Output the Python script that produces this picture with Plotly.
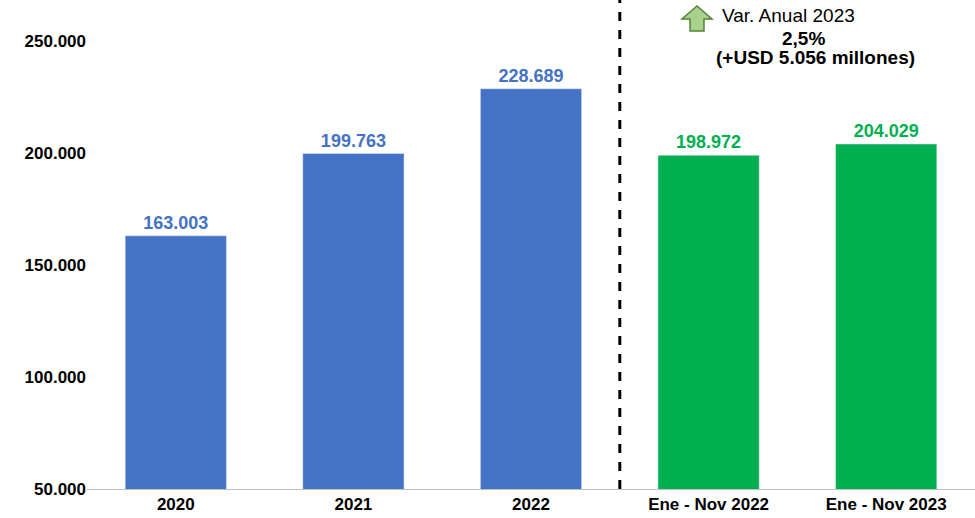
import plotly.graph_objects as go

categories = ["2020", "2021", "2022", "Ene - Nov 2022", "Ene - Nov 2023"]
values = [163003, 199763, 228689, 198972, 204029]
colors = ["#4472C4", "#4472C4", "#4472C4", "#00B050", "#00B050"]
labels = ["163.003", "199.763", "228.689", "198.972", "204.029"]

fig = go.Figure(go.Bar(
    x=categories, y=values, marker_color=colors, width=0.57,
    text=labels, textposition="outside", cliponaxis=False,
    textfont=dict(family="Liberation Sans, Arial", size=18, color=colors, weight="bold"),
))

def px(x): return (x - 87) / 888
def py(y): return (489 - y) / 489

pts = [(697, 6), (682, 19), (690, 19), (690, 31), (704, 31), (704, 19), (712, 19)]
path = "M " + " L ".join(f"{px(a):.4f},{py(b):.4f}" for a, b in pts) + " Z"

fig.update_layout(
    width=975, height=518, margin=dict(l=87, r=0, t=0, b=29),
    plot_bgcolor="white", paper_bgcolor="white", separators=",.",
    showlegend=False, bargap=0.43,
    font=dict(family="Liberation Sans, Arial", color="black"),
    xaxis=dict(showgrid=False, showline=True, linecolor="#bfbfbf", ticks="",
               tickfont=dict(size=17, family="Liberation Sans, Arial", weight="bold")),
    yaxis=dict(range=[50000, 268300], tickvals=[50000, 100000, 150000, 200000, 250000],
               tickformat=",.0f", showgrid=False, zeroline=False, ticks="",
               tickfont=dict(size=17, family="Liberation Sans, Arial", weight="bold")),
    shapes=[
        dict(type="line", xref="x", yref="paper", x0=2.5, x1=2.5, y0=0, y1=1,
             line=dict(color="black", width=3, dash="dash")),
        dict(type="path", xref="paper", yref="paper", path=path,
             fillcolor="#A9D18E", line=dict(color="#548235", width=1.5)),
    ],
    annotations=[
        dict(xref="paper", yref="paper", x=px(720), y=py(16), xanchor="left", yanchor="middle",
             text="Var. Anual 2023", showarrow=False, font=dict(size=19)),
        dict(xref="paper", yref="paper", x=px(803), y=py(38), xanchor="center", yanchor="middle",
             text="<b>2,5%</b>", showarrow=False, font=dict(size=19)),
        dict(xref="paper", yref="paper", x=px(815), y=py(57), xanchor="center", yanchor="middle",
             text="<b>(+USD 5.056 millones)</b>", showarrow=False, font=dict(size=19)),
    ],
)
fig.write_html("out.html", config={"displayModeBar": False},
               post_script="document.body.style.margin='0';document.body.style.overflow='hidden';")
